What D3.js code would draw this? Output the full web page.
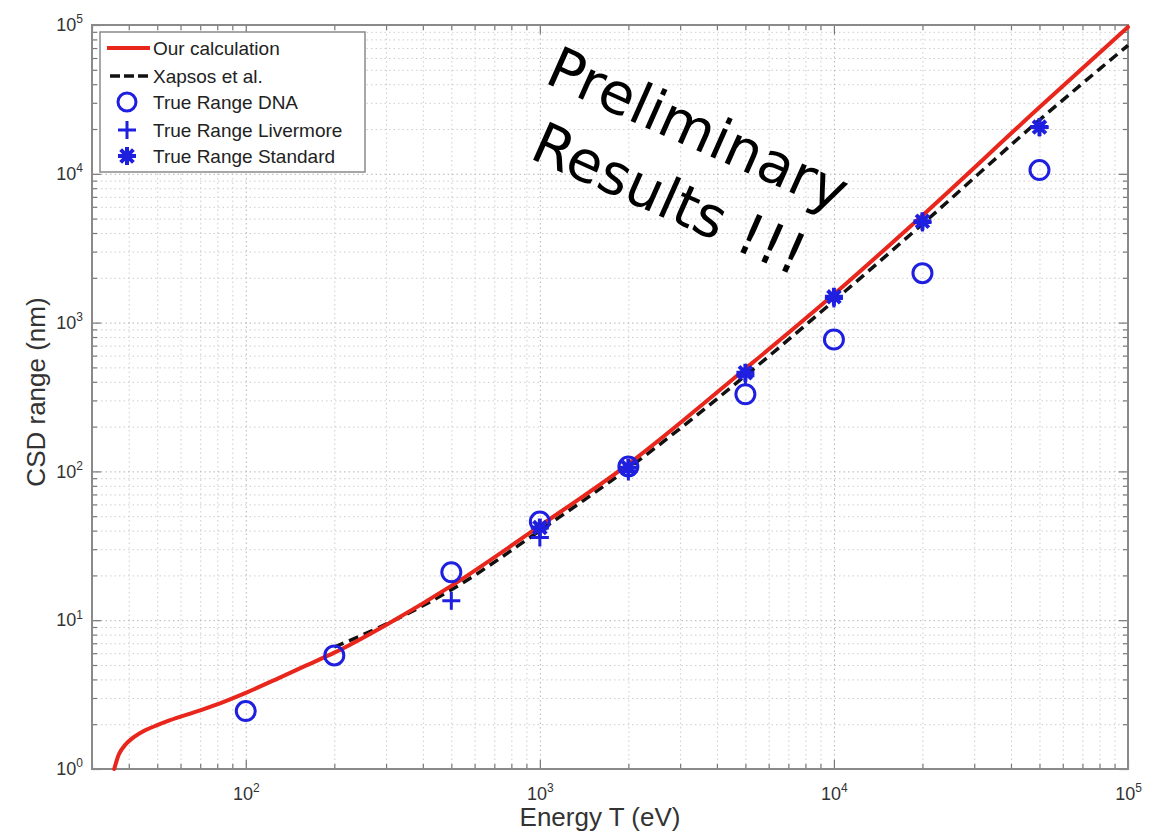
<!DOCTYPE html>
<html>
<head>
<meta charset="utf-8">
<script src="https://cdn.jsdelivr.net/npm/d3@7"></script>
<style>
  body { margin: 0; background: #fff; }
  svg { font-family: "Liberation Sans", Arial, sans-serif; }
  .grid line { stroke: #b4b4b4; stroke-dasharray: 1.5 3; }
  .grid.minor line { stroke: #cdcdcd; }
  .grid path, .ticks path { display: none; }
  .ticks line { stroke: #777; stroke-width: 1.2; }
  .lab text { fill: #333; font-size: 18px; }
  .lab path, .lab line { display: none; }
</style>
</head>
<body>
<svg id="chart" width="1154" height="834"></svg>
<script>
/*  Data  */
const calcE = [35.7, 37, 39, 41, 45, 50, 55, 70, 85, 100, 130, 160, 200, 300, 500, 1000, 2000, 5000, 10000, 20000, 50000, 100000];
const calcR = [1.0, 1.25, 1.46, 1.6, 1.8, 1.97, 2.12, 2.48, 2.85, 3.25, 4.1, 4.95, 6.05, 9.3, 17, 43, 112, 490, 1550, 5250, 28000, 97000];

const xapE = [200, 300, 500, 1000, 2000, 5000, 10000, 20000, 50000, 100000];
const xapR = [6.6, 9.4, 16, 40, 105, 440, 1400, 4600, 23000, 73000];

const dnaE = [100, 200, 500, 1000, 2000, 5000, 10000, 20000, 50000];
const dnaR = [2.45, 5.8, 21, 46, 108, 330, 770, 2150, 10600];

const livE = [500, 1000, 2000, 5000, 10000, 20000, 50000];
const livR = [13.5, 36, 100, 440, 1450, 4700, 20500];

const stdE = [1000, 2000, 5000, 10000, 20000, 50000];
const stdR = [42, 106, 460, 1490, 4800, 20600];

const legendLabels = ["Our calculation", "Xapsos et al.", "True Range DNA", "True Range Livermore", "True Range Standard"];

/*  Dimensions  */
const margin = {top: 25, right: 26, bottom: 65, left: 92},
      width  = 1154 - margin.left - margin.right,
      height = 834 - margin.top - margin.bottom;

const svg = d3.select("#chart")
  .append("g")
  .attr("transform", `translate(${margin.left},${margin.top})`);

const x = d3.scaleLog().domain([30, 1e5]).range([0, width]);
const y = d3.scaleLog().domain([1, 1e5]).range([height, 0]);

// major / minor tick values
function logTicks(lo, hi) {
  const major = [], minor = [];
  for (let p = Math.floor(Math.log10(lo)); p <= Math.ceil(Math.log10(hi)); p++) {
    for (let k = 1; k <= 9; k++) {
      const v = k * Math.pow(10, p);
      if (v < lo * 0.999 || v > hi * 1.001) continue;
      (k === 1 ? major : minor).push(v);
    }
  }
  return {major, minor};
}
const xt = logTicks(30, 1e5), yt = logTicks(1, 1e5);

/* ---------- grid ---------- */
svg.append("g").attr("class", "grid minor")
  .attr("transform", `translate(0,${height})`)
  .call(d3.axisBottom(x).tickValues(xt.minor).tickSize(-height).tickFormat(""));
svg.append("g").attr("class", "grid minor")
  .call(d3.axisLeft(y).tickValues(yt.minor).tickSize(-width).tickFormat(""));
svg.append("g").attr("class", "grid")
  .attr("transform", `translate(0,${height})`)
  .call(d3.axisBottom(x).tickValues(xt.major).tickSize(-height).tickFormat(""));
svg.append("g").attr("class", "grid")
  .call(d3.axisLeft(y).tickValues(yt.major).tickSize(-width).tickFormat(""));

/* ---------- tick marks on all four sides ---------- */
[[d3.axisBottom, x, xt, `translate(0,${height})`],
 [d3.axisTop, x, xt, "translate(0,0)"],
 [d3.axisLeft, y, yt, "translate(0,0)"],
 [d3.axisRight, y, yt, `translate(${width},0)`]].forEach(([ax, sc, t, tr]) => {
  svg.append("g").attr("class", "ticks").attr("transform", tr)
    .call(ax(sc).tickValues(t.major).tickSize(-9).tickFormat(""));
  svg.append("g").attr("class", "ticks").attr("transform", tr)
    .call(ax(sc).tickValues(t.minor).tickSize(-5).tickFormat(""));
});

/* ---------- tick labels 10^n ---------- */
function powLabel(sel) {
  sel.selectAll(".tick text").each(function(d) {
    const t = d3.select(this).text("");
    t.append("tspan").text("10");
    t.append("tspan").attr("dy", "-0.65em").attr("font-size", "12px")
      .text(Math.round(Math.log10(d)));
  });
}
svg.append("g").attr("class", "lab")
  .attr("transform", `translate(0,${height})`)
  .call(d3.axisBottom(x).tickValues(xt.major.filter(v => v >= 100)).tickSize(0).tickPadding(18))
  .call(powLabel);
svg.append("g").attr("class", "lab")
  .call(d3.axisLeft(y).tickValues(yt.major).tickSize(0).tickPadding(9))
  .call(powLabel);

/* ---------- frame ---------- */
svg.append("rect")
  .attr("width", width).attr("height", height)
  .attr("fill", "none").attr("stroke", "#8a8a8a").attr("stroke-width", 2);

/* ---------- curves ---------- */
const lineGen = d3.line()
  .x(d => x(d[0]))
  .y(d => y(d[1]))
  .curve(d3.curveMonotoneX);

svg.append("path")
  .datum(xapE.map((e, i) => [e, xapR[i]]))
  .attr("fill", "none").attr("stroke", "#111")
  .attr("stroke-width", 3.5).attr("stroke-dasharray", "10 6")
  .attr("d", lineGen);

svg.append("path")
  .datum(calcE.map((e, i) => [e, calcR[i]]))
  .attr("fill", "none").attr("stroke", "#e8261c")
  .attr("stroke-width", 4).attr("stroke-linecap", "round")
  .attr("d", lineGen);

/* ---------- markers ---------- */
const blue = "#1f1fe0";
const plusPath = "M-9,0H9M0,-9V9";
const starPath = d3.range(4).map(i => {
  const a = i * Math.PI / 4, c = Math.cos(a) * 9, s = Math.sin(a) * 9;
  return `M${-c},${-s}L${c},${s}`;
}).join("");

svg.selectAll(".dna").data(dnaE.map((e, i) => [e, dnaR[i]]))
  .join("circle").attr("class", "dna")
  .attr("cx", d => x(d[0])).attr("cy", d => y(d[1]))
  .attr("r", 9.5).attr("fill", "none").attr("stroke", blue).attr("stroke-width", 3);

svg.selectAll(".liv").data(livE.map((e, i) => [e, livR[i]]))
  .join("path").attr("class", "liv")
  .attr("transform", d => `translate(${x(d[0])},${y(d[1])})`)
  .attr("d", plusPath).attr("stroke", blue).attr("stroke-width", 3);

svg.selectAll(".std").data(stdE.map((e, i) => [e, stdR[i]]))
  .join("path").attr("class", "std")
  .attr("transform", d => `translate(${x(d[0])},${y(d[1])})`)
  .attr("d", starPath).attr("stroke", blue).attr("stroke-width", 4);

/* ---------- legend ---------- */
const lg = svg.append("g").attr("transform", "translate(8,7)");
lg.append("rect").attr("width", 265).attr("height", 140)
  .attr("fill", "#fff").attr("stroke", "#8a8a8a").attr("stroke-width", 1.5);
const rowY = [16, 44, 70, 98, 124];
lg.selectAll(".lgt").data(legendLabels).join("text")
  .attr("class", "lgt")
  .attr("x", 53).attr("y", (d, i) => rowY[i]).attr("dy", "0.35em")
  .attr("font-size", "19px").attr("fill", "#222")
  .text(d => d);
lg.append("line").attr("x1", 7).attr("x2", 50).attr("y1", rowY[0]).attr("y2", rowY[0])
  .attr("stroke", "#e8261c").attr("stroke-width", 4);
lg.append("line").attr("x1", 10).attr("x2", 50).attr("y1", rowY[1]).attr("y2", rowY[1])
  .attr("stroke", "#111").attr("stroke-width", 3.5).attr("stroke-dasharray", "10 4");
lg.append("circle").attr("cx", 27).attr("cy", rowY[2]).attr("r", 9)
  .attr("fill", "none").attr("stroke", blue).attr("stroke-width", 3);
lg.append("path").attr("transform", `translate(27,${rowY[3]})`)
  .attr("d", plusPath).attr("stroke", blue).attr("stroke-width", 3);
lg.append("path").attr("transform", `translate(27,${rowY[4]})`)
  .attr("d", starPath).attr("stroke", blue).attr("stroke-width", 4);

/* ---------- watermark ---------- */
const wm = d3.select("#chart").append("g")
  .attr("transform", "translate(543,82) rotate(24)")
  .attr("font-family", "DejaVu Sans, sans-serif").attr("font-size", "57px").attr("fill", "#000");
wm.append("text").attr("x", 0).attr("y", 0).text("Preliminary");
wm.append("text").attr("x", 17).attr("y", 75).text("Results !!!");

/* ---------- axis titles ---------- */
d3.select("#chart").append("text")
  .attr("x", margin.left + width / 2 - 10).attr("y", 826)
  .attr("text-anchor", "middle").attr("font-size", "26px").attr("fill", "#333")
  .text("Energy T (eV)");
d3.select("#chart").append("text")
  .attr("transform", `translate(45,${margin.top + height / 2 - 5}) rotate(-90)`)
  .attr("text-anchor", "middle").attr("font-size", "26px").attr("fill", "#333")
  .text("CSD range (nm)");
</script>
</body>
</html>
